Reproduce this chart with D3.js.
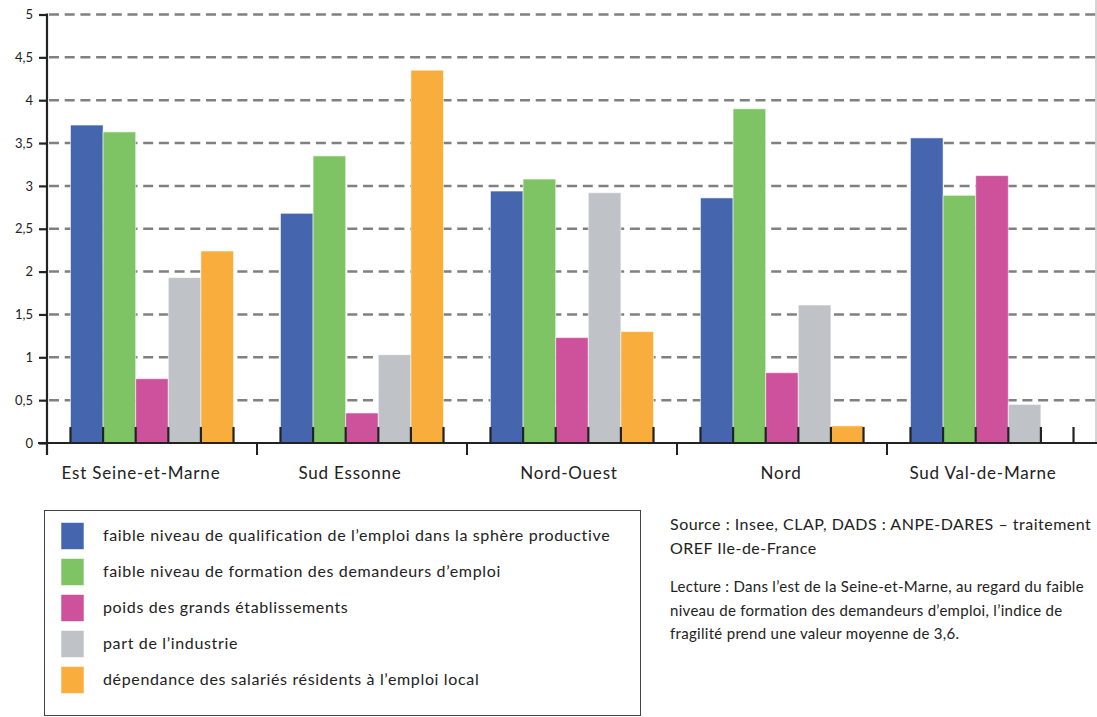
<!DOCTYPE html>
<html>
<head>
<meta charset="utf-8">
<script src="https://cdn.jsdelivr.net/npm/d3@7"></script>
<style>
    body { margin: 0; background: #fff; }
    text { font-family: Lato, "Open Sans", sans-serif; fill: #222; }
</style>
</head>
<body>
<div id="chart"></div>
<script>
// categories (zones)
var categories = ["Est Seine-et-Marne", "Sud Essonne", "Nord-Ouest", "Nord", "Sud Val-de-Marne"];

// series
var seriesKeys = ["qualification", "formation", "grandsEtab", "industrie", "dependance"];
var seriesLabels = [
    "faible niveau de qualification de l\u2019emploi dans la sph\u00e8re productive",
    "faible niveau de formation des demandeurs d\u2019emploi",
    "poids des grands \u00e9tablissements",
    "part de l\u2019industrie",
    "d\u00e9pendance des salari\u00e9s r\u00e9sidents \u00e0 l\u2019emploi local"
];
var seriesColors = ["#4565ae", "#7ec465", "#ce519c", "#bfc2c6", "#f8ad3c"];

// values per series, one per category
var qualification = [3.71, 2.68, 2.94, 2.86, 3.56];
var formation     = [3.63, 3.35, 3.08, 3.90, 2.89];
var grandsEtab    = [0.75, 0.35, 1.23, 0.82, 3.12];
var industrie     = [1.93, 1.03, 2.92, 1.61, 0.45];
var dependance    = [2.24, 4.35, 1.30, 0.20, null];

// y ticks
var yTicks = [0, 0.5, 1, 1.5, 2, 2.5, 3, 3.5, 4, 4.5, 5];

// notes
var sourceLines = ["Source : Insee, CLAP, DADS : ANPE-DARES \u2013 traitement", "OREF Ile-de-France"];
var lectureLines = [
    "Lecture : Dans l\u2019est de la Seine-et-Marne, au regard du faible",
    "niveau de formation des demandeurs d\u2019emploi, l\u2019indice de",
    "fragilit\u00e9 prend une valeur moyenne de 3,6."
];

// the original labels are not exactly centred under their groups
var labelNudge = [-11, -12, -3, -1, -9];

var seriesValues = [qualification, formation, grandsEtab, industrie, dependance];

var data = categories.map(function(c, i) {
    return {
        key: c,
        values: seriesKeys.map(function(k, j) {
            return { key: k, value: seriesValues[j][i], color: seriesColors[j] };
        })
    };
});

var W = 1097, H = 717;
var svg = d3.select("#chart").append("svg")
    .attr("width", W)
    .attr("height", H);

// scales
var x0 = d3.scaleBand()
    .domain(categories)
    .range([47, 1097])
    .paddingInner(0)
    .paddingOuter(0);
var x1 = d3.scaleBand()
    .domain(seriesKeys)
    .range([0, x0.bandwidth()])
    .paddingInner(0)
    .paddingOuter(0.72);
var y = d3.scaleLinear()
    .domain([0, 5])
    .range([443, 14.5]);

// dashed gridlines
svg.append("g")
    .selectAll("line")
    .data(yTicks.filter(function(d) { return d > 0; }))
    .enter().append("line")
    .attr("x1", 49)
    .attr("x2", W)
    .attr("y1", function(d) { return y(d); })
    .attr("y2", function(d) { return y(d); })
    .attr("stroke", "#808080")
    .attr("stroke-width", 2.5)
    .attr("stroke-dasharray", "10,5.7");

// right frame edge
svg.append("line")
    .attr("x1", W - 1).attr("x2", W - 1)
    .attr("y1", 0).attr("y2", y(0))
    .attr("stroke", "#aaa")
    .attr("stroke-width", 1);

// bars
var groups = svg.append("g")
    .selectAll("g")
    .data(data)
    .enter().append("g")
    .attr("transform", function(d) { return "translate(" + x0(d.key) + ",0)"; });

groups.selectAll("rect")
    .data(function(d) { return d.values.filter(function(v) { return v.value != null; }); })
    .enter().append("rect")
    .attr("x", function(d) { return x1(d.key); })
    .attr("y", function(d) { return y(d.value); })
    .attr("width", x1.bandwidth())
    .attr("height", function(d) { return y(0) - y(d.value); })
    .attr("fill", function(d) { return d.color; })
    .attr("stroke", "rgba(255,255,255,0.55)")
    .attr("stroke-width", 1);

// small ticks at each bar edge
groups.selectAll("line.edge")
    .data(function() {
        var edges = seriesKeys.map(function(k) { return x1(k); });
        edges.push(x1(seriesKeys[seriesKeys.length - 1]) + x1.bandwidth());
        return edges;
    })
    .enter().append("line")
    .attr("class", "edge")
    .attr("x1", function(d) { return d; })
    .attr("x2", function(d) { return d; })
    .attr("y1", y(0) - 16)
    .attr("y2", y(0))
    .attr("stroke", "#222")
    .attr("stroke-width", 2.2);

// x axis line
svg.append("line")
    .attr("x1", 38)
    .attr("x2", W)
    .attr("y1", y(0))
    .attr("y2", y(0))
    .attr("stroke", "#222")
    .attr("stroke-width", 2.2);

// category boundary ticks
svg.append("g")
    .selectAll("line")
    .data(categories.slice(1))
    .enter().append("line")
    .attr("x1", function(d) { return x0(d); })
    .attr("x2", function(d) { return x0(d); })
    .attr("y1", y(0))
    .attr("y2", y(0) + 12)
    .attr("stroke", "#222")
    .attr("stroke-width", 2);

// category labels
svg.append("g")
    .selectAll("text")
    .data(categories)
    .enter().append("text")
    .attr("x", function(d, i) { return x0(d) + x0.bandwidth() / 2 + labelNudge[i]; })
    .attr("y", 479)
    .attr("text-anchor", "middle")
    .style("font-size", "17px")
    .style("letter-spacing", "0.8px")
    .attr("fill", "#2a2a2a")
    .text(function(d) { return d; });

// y axis
var yAxis = d3.axisLeft(y)
    .tickValues(yTicks)
    .tickSize(8)
    .tickPadding(6)
    .tickFormat(function(d) { return String(d).replace(".", ","); });

var gy = svg.append("g")
    .attr("transform", "translate(47,0)")
    .call(yAxis);
gy.select(".domain").remove();
gy.selectAll(".tick line").attr("stroke", "#222").attr("stroke-width", 2.2);
gy.selectAll(".tick text")
    .style("font-family", "Lato, sans-serif")
    .style("font-size", "13px")
    .attr("fill", "#222");

svg.append("line")
    .attr("x1", 47).attr("x2", 47)
    .attr("y1", y(5) - 1)
    .attr("y2", y(0) + 12)
    .attr("stroke", "#222")
    .attr("stroke-width", 2.2);

// legend
var legend = svg.append("g");
legend.append("rect")
    .attr("x", 44.5)
    .attr("y", 510.5)
    .attr("width", 596)
    .attr("height", 205)
    .attr("fill", "none")
    .attr("stroke", "#444")
    .attr("stroke-width", 1);

var items = legend.selectAll("g.item")
    .data(seriesLabels)
    .enter().append("g")
    .attr("class", "item")
    .attr("transform", function(d, i) { return "translate(0," + (536 + i * 36) + ")"; });
items.append("rect")
    .attr("x", 61)
    .attr("y", -13.5)
    .attr("width", 23)
    .attr("height", 27)
    .attr("fill", function(d, i) { return seriesColors[i]; })
    .attr("stroke", "rgba(255,255,255,0.55)");
items.append("text")
    .attr("x", 103)
    .attr("y", 5)
    .style("font-size", "16px")
    .style("letter-spacing", "0.65px")
    .attr("fill", "#333")
    .text(function(d) { return d; });

// source and reading notes
var notes = svg.append("g");
sourceLines.forEach(function(line, i) {
    notes.append("text")
        .attr("x", 670)
        .attr("y", 530 + i * 24)
        .style("font-size", "16px")
        .style("letter-spacing", "0.5px")
        .attr("fill", "#333")
        .text(line);
});
lectureLines.forEach(function(line, i) {
    notes.append("text")
        .attr("x", 670)
        .attr("y", 592 + i * 23.5)
        .style("font-size", "15px")
        .style("letter-spacing", "0.3px")
        .attr("fill", "#333")
        .text(line);
});
</script>
</body>
</html>
